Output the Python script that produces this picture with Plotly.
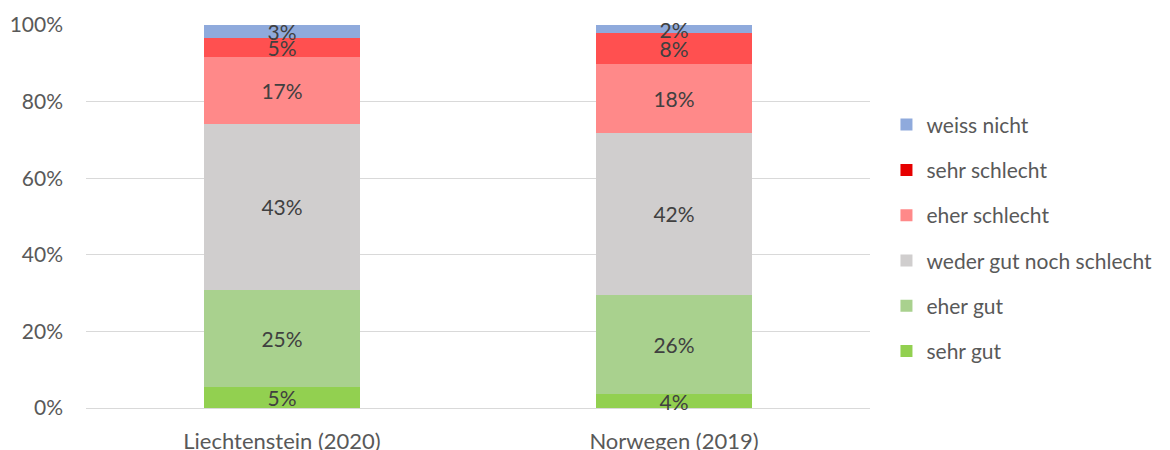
import plotly.graph_objects as go

categories = ["Liechtenstein (2020)", "Norwegen (2019)"]
series_names = ["sehr gut", "eher gut", "weder gut noch schlecht", "eher schlecht", "sehr schlecht", "weiss nicht"]
sehr_gut = [5.4, 3.6]
eher_gut = [25.4, 25.9]
weder = [43.4, 42.4]
eher_schlecht = [17.4, 18.0]
sehr_schlecht = [5.0, 8.0]
weiss_nicht = [3.4, 2.1]
labels_sehr_gut = ["5%", "4%"]
labels_eher_gut = ["25%", "26%"]
labels_weder = ["43%", "42%"]
labels_eher_schlecht = ["17%", "18%"]
labels_sehr_schlecht = ["5%", "8%"]
labels_weiss_nicht = ["3%", "2%"]
y_ticks = [0, 20, 40, 60, 80, 100]
y_tick_labels = ["0%", "20%", "40%", "60%", "80%", "100%"]

values = [sehr_gut, eher_gut, weder, eher_schlecht, sehr_schlecht, weiss_nicht]
labels = [labels_sehr_gut, labels_eher_gut, labels_weder, labels_eher_schlecht, labels_sehr_schlecht, labels_weiss_nicht]
bar_colors = ["#92D050", "#A9D18E", "#D0CECE", "#FF8989", "#FF5050", "#8FAADC"]
legend_colors = ["#92D050", "#A9D18E", "#D0CECE", "#FF8989", "#E60000", "#8FAADC"]

FONT = "Lato, Calibri, sans-serif"
fig = go.Figure()
for i, (name, vals, txt) in enumerate(zip(series_names, values, labels)):
    fig.add_trace(go.Bar(
        x=categories, y=vals, name=name, text=txt,
        textposition="inside", insidetextanchor="middle",
        textfont=dict(color="#404040", size=21, family=FONT),
        marker=dict(color=bar_colors[i], line=dict(width=0)),
        showlegend=False, hoverinfo="skip", cliponaxis=False,
    ))
# legend entries (legend squares use the legend colours)
for i, name in enumerate(series_names):
    fig.add_trace(go.Bar(
        x=[None], y=[None], name=name,
        marker=dict(color=legend_colors[i], line=dict(width=0)),
        legendgroup=name, legendrank=10 - i, showlegend=True,
    ))

fig.update_layout(
    width=1170, height=450,
    margin=dict(l=86, r=300, t=25, b=42),
    barmode="stack", bargap=0.6,
    plot_bgcolor="white", paper_bgcolor="white",
    font=dict(family=FONT, size=21, color="#595959"),
    uniformtext=dict(minsize=21, mode="show"),
    legend=dict(
        x=1.021, xanchor="left", y=0.444, yanchor="middle",
        font=dict(size=21, color="#595959", family=FONT),
        tracegroupgap=15, itemwidth=30, traceorder="grouped",
        bgcolor="rgba(0,0,0,0)", borderwidth=0,
    ),
    xaxis=dict(showgrid=False, showline=False, ticks="", automargin=False,
               ticklabelstandoff=18, tickfont=dict(size=22, color="#595959")),
    yaxis=dict(
        range=[0, 100], tickvals=y_ticks, ticktext=y_tick_labels, automargin=False,
        showgrid=True, gridcolor="#D9D9D9", gridwidth=1.3,
        zeroline=True, zerolinecolor="#D9D9D9", zerolinewidth=1.3,
        showline=False, ticks="", ticklabelstandoff=22,
        tickfont=dict(size=21, color="#595959"),
    ),
)
fig.write_html("out.html", config={"displayModeBar": False},
               post_script="document.body.style.margin='0';document.body.style.overflow='hidden';")
